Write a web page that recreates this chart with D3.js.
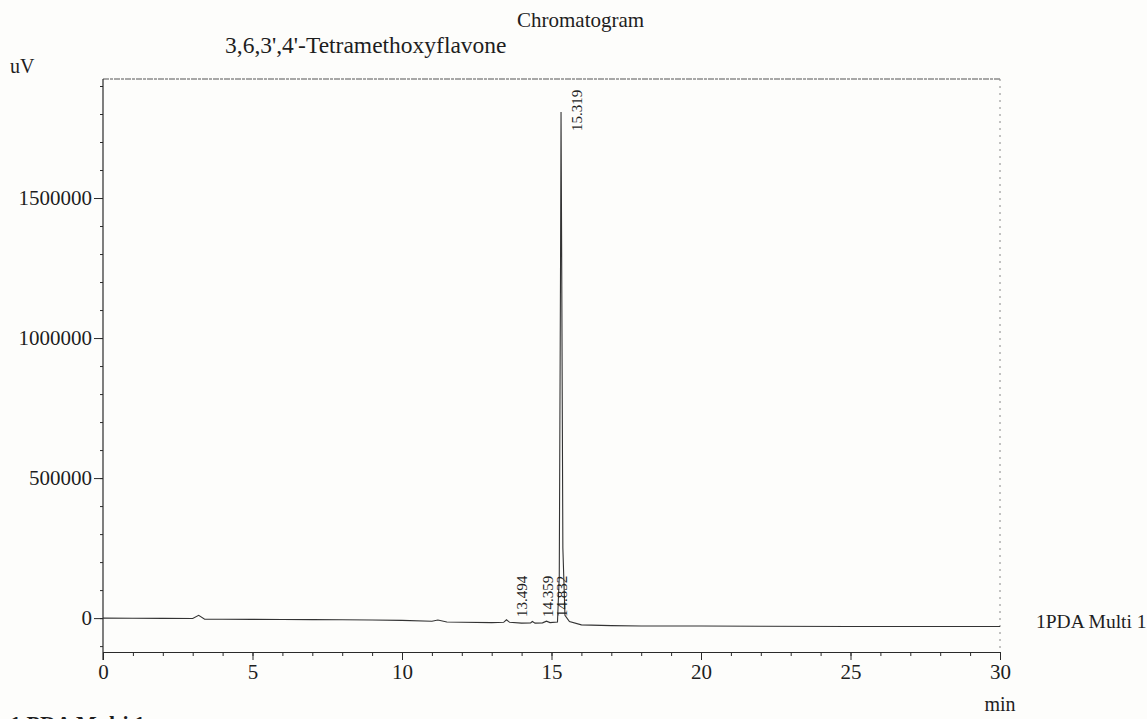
<!DOCTYPE html>
<html>
<head>
<meta charset="utf-8">
<script src="https://cdn.jsdelivr.net/npm/d3@7"></script>
<style>
  body { margin: 0; background: #fdfdfb; }
  svg { display: block; }
  text { font-family: "Liberation Serif", "Times New Roman", serif; fill: #1e1e1e; }
  .axis path, .axis line { stroke: #2a2a2a; }
</style>
</head>
<body>
<div id="chart"></div>
<script>
// chromatogram trace (min, uV)
var timeMin = [0, 1, 2, 3.0, 3.2, 3.4, 4, 5, 6, 7, 8, 9, 10, 11.0, 11.2, 11.5, 12, 13,
    13.4, 13.494, 13.6, 14, 14.3, 14.359, 14.45, 14.7, 14.832, 14.95, 15.2, 15.26,
    15.3, 15.319, 15.34, 15.38, 15.45, 15.6, 16, 17, 18, 20, 22, 25, 28, 30];
var signalUv = [0, -500, -1000, -1500, 10000, -4000, -4000, -4500, -5000, -5500, -6000, -7000, -8000, -11000, -7000, -14000, -15000, -16000,
    -15000, -6000, -15000, -18000, -17000, -12000, -18000, -17000, -11000, -16000, -14000, 150000,
    1200000, 1807000, 1300000, 250000, 10000, -12000, -24000, -27000, -28000, -28000, -29000, -30000, -30000, -30000];

var peakTimes = [13.494, 14.359, 14.832, 15.319];
var peakLabels = ["13.494", "14.359", "14.832", "15.319"];

var xMajor = [0, 5, 10, 15, 20, 25, 30];
var xMinor = d3.range(0, 31, 1);
var yMajor = [0, 500000, 1000000, 1500000];
var yMinor = d3.range(-100000, 1900001, 100000);

gen_vis();

function gen_vis() {
    var w = 1147, h = 719;
    var pl = 103, pr = 1000, pt = 79, pb = 652;

    var svg = d3.select("#chart").append("svg")
        .attr("width", w)
        .attr("height", h);

    var xscale = d3.scaleLinear().domain([0, 30]).range([pl, pr]);
    var yscale = d3.scaleLinear().domain([-121000, 1925000]).range([pb, pt]);

    // frame: faint top and right edges
    svg.append("line")
        .attr("x1", pl).attr("x2", pr).attr("y1", pt).attr("y2", pt)
        .attr("stroke", "#555").attr("stroke-width", 1.2).attr("stroke-dasharray", "6,1,3,1");
    svg.append("line")
        .attr("x1", pr).attr("x2", pr).attr("y1", pt).attr("y2", pb)
        .attr("stroke", "#888").attr("stroke-width", 1).attr("stroke-dasharray", "2,5");

    // y axis
    svg.append("g")
        .attr("class", "axis")
        .attr("transform", "translate(" + pl + ",0)")
        .call(d3.axisLeft(yscale).tickValues(yMinor).tickSize(3).tickFormat(""))
        .select(".domain").remove();
    var yaxis = svg.append("g")
        .attr("class", "axis")
        .attr("transform", "translate(" + pl + ",0)")
        .call(d3.axisLeft(yscale).tickValues(yMajor).tickSize(9).tickSizeOuter(0).tickPadding(2).tickFormat(d3.format("d")));
    yaxis.select(".domain").attr("d", "M0," + pt + "V" + (pb + 8));
    yaxis.selectAll("text").style("font-size", "21px").attr("font-family", null);

    // x axis
    svg.append("g")
        .attr("class", "axis")
        .attr("transform", "translate(0," + pb + ")")
        .call(d3.axisBottom(xscale).tickValues(xMinor).tickSize(4).tickFormat(""))
        .select(".domain").remove();
    var xaxis = svg.append("g")
        .attr("class", "axis")
        .attr("transform", "translate(0," + pb + ")")
        .call(d3.axisBottom(xscale).tickValues(xMajor).tickSize(8).tickSizeOuter(0).tickPadding(4).tickFormat(d3.format("d")));
    xaxis.selectAll("text").style("font-size", "21px").attr("font-family", null);
    svg.selectAll(".axis .domain").attr("stroke-width", 1.2);

    // trace
    var pts = timeMin.map(function (t, i) { return [t, signalUv[i]]; });
    svg.append("path")
        .datum(pts)
        .attr("fill", "none")
        .attr("stroke", "#333")
        .attr("stroke-width", 1.1)
        .attr("d", d3.line()
            .x(function (d) { return xscale(d[0]); })
            .y(function (d) { return yscale(d[1]); }));

    // peak labels, rotated
    function valueAt(t) {
        var i = d3.bisectLeft(timeMin, t);
        return signalUv[Math.min(i, signalUv.length - 1)];
    }
    svg.selectAll(".plabel")
        .data(peakTimes)
        .enter().append("text")
        .attr("class", "plabel")
        .attr("transform", function (d) {
            var y = Math.min(yscale(valueAt(d)) + 19, yscale(0) - 1);
            return "translate(" + (xscale(d) + 21) + "," + y + ") rotate(-90)";
        })
        .style("font-size", "15px")
        .text(function (d, i) { return peakLabels[i]; });

    // texts
    svg.append("text").attr("x", 517).attr("y", 27).style("font-size", "21px").text("Chromatogram");
    svg.append("text").attr("x", 225).attr("y", 53).style("font-size", "23.5px").text("3,6,3',4'-Tetramethoxyflavone");
    svg.append("text").attr("x", 10).attr("y", 73).style("font-size", "20px").text("uV");
    svg.append("text").attr("x", 1036).attr("y", 628).style("font-size", "19.5px").text("1PDA Multi 1");
    svg.append("text").attr("x", xscale(30)).attr("y", 711).attr("text-anchor", "middle").style("font-size", "20px").text("min");
    svg.append("text").attr("x", 10).attr("y", 731).style("font-size", "22px").style("font-weight", "bold").text("1  PDA Multi 1");
}
</script>
</body>
</html>
